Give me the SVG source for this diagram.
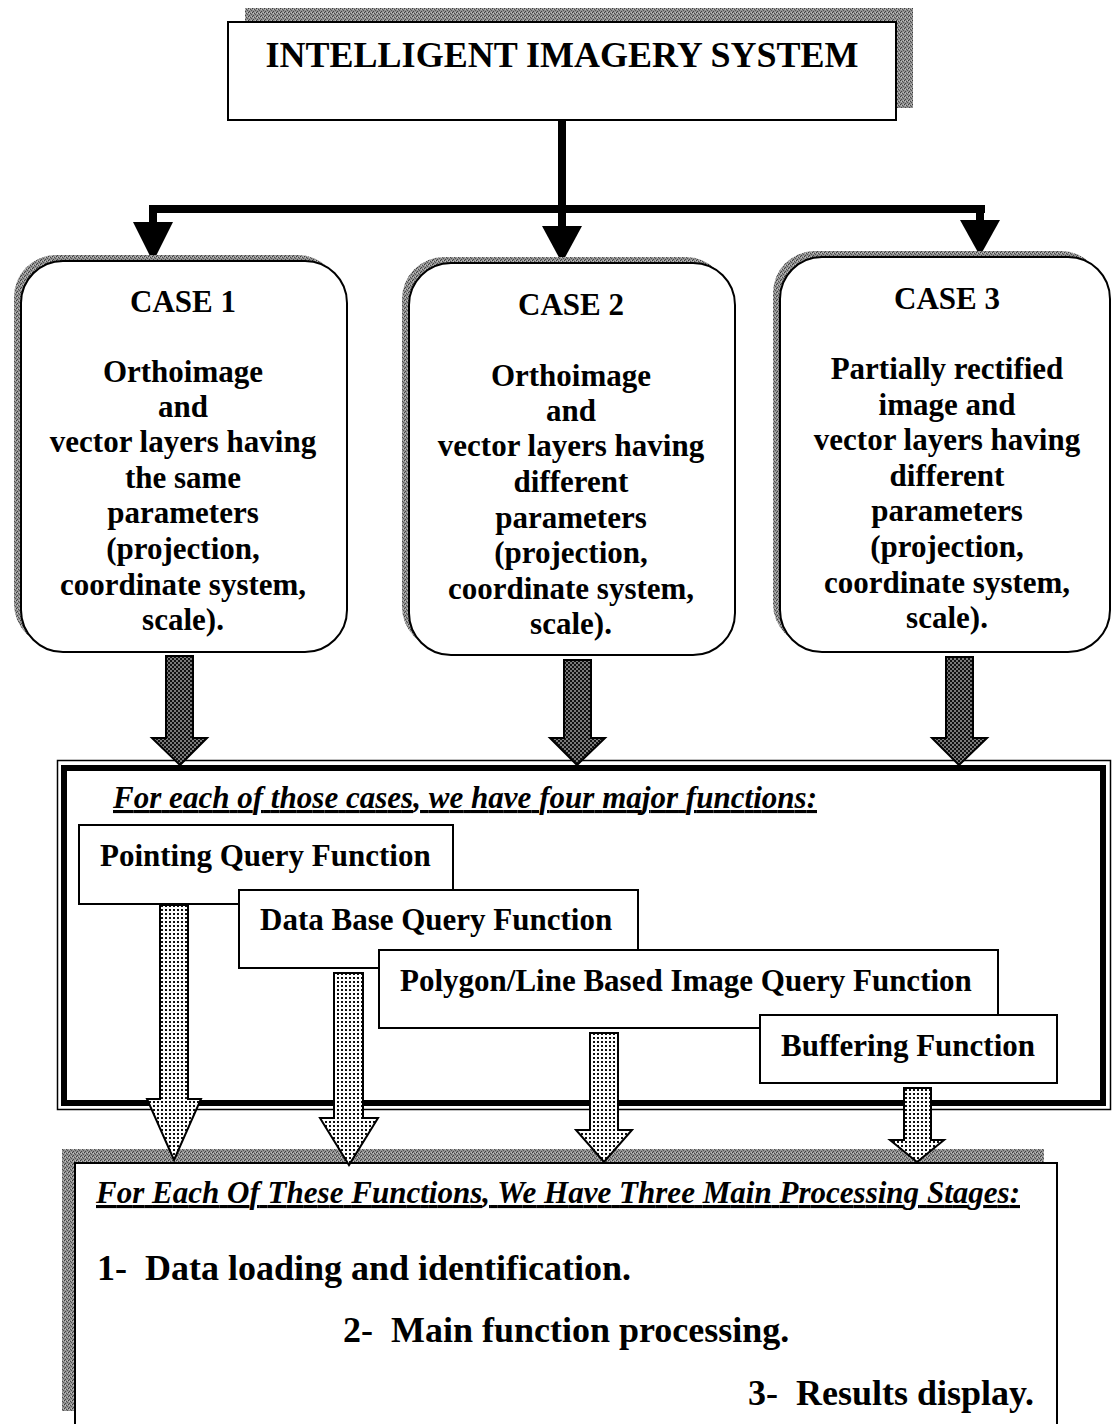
<svg xmlns="http://www.w3.org/2000/svg" width="1114" height="1424" viewBox="0 0 1114 1424">
  <defs>
    <!-- grainy halftone grey used for drop shadows -->
    <pattern id="grain" width="4" height="4" patternUnits="userSpaceOnUse">
      <rect width="4" height="4" fill="#929292"/>
      <rect x="0" y="0" width="1" height="1" fill="#3a3a3a"/>
      <rect x="2" y="1" width="1" height="1" fill="#4a4a4a"/>
      <rect x="1" y="3" width="1" height="1" fill="#444"/>
      <rect x="3" y="2" width="1" height="1" fill="#555"/>
      <rect x="3" y="0" width="1" height="1" fill="#bbb"/>
      <rect x="1" y="1" width="1" height="1" fill="#c4c4c4"/>
    </pattern>
    <!-- dense dark stipple for the case arrows -->
    <pattern id="dense" width="4" height="4" patternUnits="userSpaceOnUse">
      <rect width="4" height="4" fill="#111"/>
      <circle cx="1" cy="1" r="0.8" fill="#fff"/>
      <circle cx="3" cy="3" r="0.8" fill="#fff"/>
    </pattern>
    <!-- light dot screen for the function arrows -->
    <pattern id="dots" width="4" height="4" patternUnits="userSpaceOnUse">
      <rect width="4" height="4" fill="#fff"/>
      <rect x="1" y="1" width="2" height="2" fill="#111"/>
    </pattern>
  </defs>
  <style>
    .t { font-family: "Liberation Serif", "Times New Roman", serif; font-weight: bold; fill: #000; }
    .title { font-size: 36px; }
    .case { font-size: 31px; text-anchor: middle; }
    .fn { font-size: 31px; }
    .hdr { font-size: 31px; font-style: italic; text-decoration: underline; }
    .step { font-size: 36px; }
    .box { fill: #fff; stroke: #000; stroke-width: 2; }
    .shadow { fill: url(#grain); }
    .stem { fill: #000; stroke: none; }
    .darrow { fill: url(#dense); stroke: #000; stroke-width: 2; stroke-linejoin: miter; }
    .larrow { fill: url(#dots); stroke: #000; stroke-width: 2; stroke-linejoin: miter; }
  </style>

  <rect width="1114" height="1424" fill="#fff"/>

  <!-- top-level system box -->
  <g id="system">
    <rect class="shadow" x="245" y="8" width="668" height="100"/>
    <rect class="box" x="228" y="22" width="668" height="98"/>
    <text class="t title" x="562" y="67" text-anchor="middle">INTELLIGENT IMAGERY SYSTEM</text>
  </g>

  <!-- branching connector from the system box to the three cases -->
  <g id="connectors-top">
    <rect class="stem" x="558" y="120" width="8" height="110"/>
    <rect class="stem" x="149" y="205" width="836" height="8"/>
    <rect class="stem" x="149" y="205" width="8" height="20"/>
    <polygon class="stem" points="133,222 173,222 153,262"/>
    <polygon class="stem" points="542,226 582,226 562,263"/>
    <rect class="stem" x="976" y="205" width="8" height="18"/>
    <polygon class="stem" points="960,220 1000,220 980,256"/>
  </g>

  <!-- case boxes -->
  <g id="case1">
    <rect class="shadow" x="14" y="255" width="326" height="391" rx="42"/>
    <rect class="box" x="21" y="261" width="326" height="391" rx="42"/>
    <text class="t case" x="183" y="312">CASE 1</text>
    <text class="t case" x="183" y="382">Orthoimage</text>
    <text class="t case" x="183" y="417">and</text>
    <text class="t case" x="183" y="452">vector layers having</text>
    <text class="t case" x="183" y="488">the same</text>
    <text class="t case" x="183" y="523">parameters</text>
    <text class="t case" x="183" y="559">(projection,</text>
    <text class="t case" x="183" y="595">coordinate system,</text>
    <text class="t case" x="183" y="630">scale).</text>
  </g>

  <g id="case2">
    <rect class="shadow" x="402" y="257" width="326" height="392" rx="42"/>
    <rect class="box" x="409" y="263" width="326" height="392" rx="42"/>
    <text class="t case" x="571" y="315">CASE 2</text>
    <text class="t case" x="571" y="386">Orthoimage</text>
    <text class="t case" x="571" y="421">and</text>
    <text class="t case" x="571" y="456">vector layers having</text>
    <text class="t case" x="571" y="492">different</text>
    <text class="t case" x="571" y="528">parameters</text>
    <text class="t case" x="571" y="563">(projection,</text>
    <text class="t case" x="571" y="599">coordinate system,</text>
    <text class="t case" x="571" y="634">scale).</text>
  </g>

  <g id="case3">
    <rect class="shadow" x="773" y="251" width="330" height="395" rx="42"/>
    <rect class="box" x="780" y="257" width="330" height="395" rx="42"/>
    <text class="t case" x="947" y="309">CASE 3</text>
    <text class="t case" x="947" y="379">Partially rectified</text>
    <text class="t case" x="947" y="415">image and</text>
    <text class="t case" x="947" y="450">vector layers having</text>
    <text class="t case" x="947" y="486">different</text>
    <text class="t case" x="947" y="521">parameters</text>
    <text class="t case" x="947" y="557">(projection,</text>
    <text class="t case" x="947" y="593">coordinate system,</text>
    <text class="t case" x="947" y="628">scale).</text>
  </g>

  <!-- container holding the four functions -->
  <g id="functions">
    <rect x="57.5" y="760.5" width="1053" height="349" fill="#fff" stroke="#000" stroke-width="1.5"/>
    <rect x="64" y="768" width="1039" height="335" fill="none" stroke="#000" stroke-width="6"/>
    <text class="t hdr" x="113" y="808" textLength="704" lengthAdjust="spacing">For each of those cases, we have four major functions:</text>
  </g>

  <g id="fn-pointing">
    <rect class="box" x="79" y="825" width="374" height="79"/>
    <text class="t fn" x="100" y="866">Pointing Query Function</text>
  </g>
  <g id="fn-database">
    <rect class="box" x="239" y="890" width="399" height="78"/>
    <text class="t fn" x="260" y="930">Data Base Query Function</text>
  </g>
  <g id="fn-polygon">
    <rect class="box" x="379" y="950" width="619" height="78"/>
    <text class="t fn" x="400" y="991">Polygon/Line Based Image Query Function</text>
  </g>
  <g id="fn-buffering">
    <rect class="box" x="760" y="1015" width="297" height="68"/>
    <text class="t fn" x="781" y="1056">Buffering Function</text>
  </g>

  <!-- processing-stage box -->
  <g id="stages">
    <rect class="shadow" x="62" y="1149" width="982" height="262"/>
    <rect class="box" x="75" y="1163" width="982" height="280"/>
    <text class="t hdr" x="96" y="1203" textLength="924" lengthAdjust="spacing">For Each Of These Functions, We Have Three Main Processing Stages:</text>
    <text class="t step" x="97" y="1280" xml:space="preserve">1-  Data loading and identification.</text>
    <text class="t step" x="343" y="1342" xml:space="preserve">2-  Main function processing.</text>
    <text class="t step" x="748" y="1405" xml:space="preserve">3-  Results display.</text>
  </g>

  <!-- block arrows between the stages -->
  <g id="connectors">
    <polygon class="darrow" points="166,656 193,656 193,738 207,738 180,765 152,738 166,738"/>
    <polygon class="darrow" points="564,660 591,660 591,738 605,738 577,765 550,738 564,738"/>
    <polygon class="darrow" points="946,657 973,657 973,738 987,738 959,765 932,738 946,738"/>

    <polygon class="larrow" points="160,905 188,905 188,1099 201,1099 174,1160 147,1099 160,1099"/>
    <polygon class="larrow" points="334,973 363,973 363,1118 378,1118 349,1165 320,1118 334,1118"/>
    <polygon class="larrow" points="590,1033 618,1033 618,1130 632,1130 604,1162 576,1130 590,1130"/>
    <polygon class="larrow" points="904,1088 931,1088 931,1140 944,1140 917,1162 890,1140 904,1140"/>
  </g>
</svg>
